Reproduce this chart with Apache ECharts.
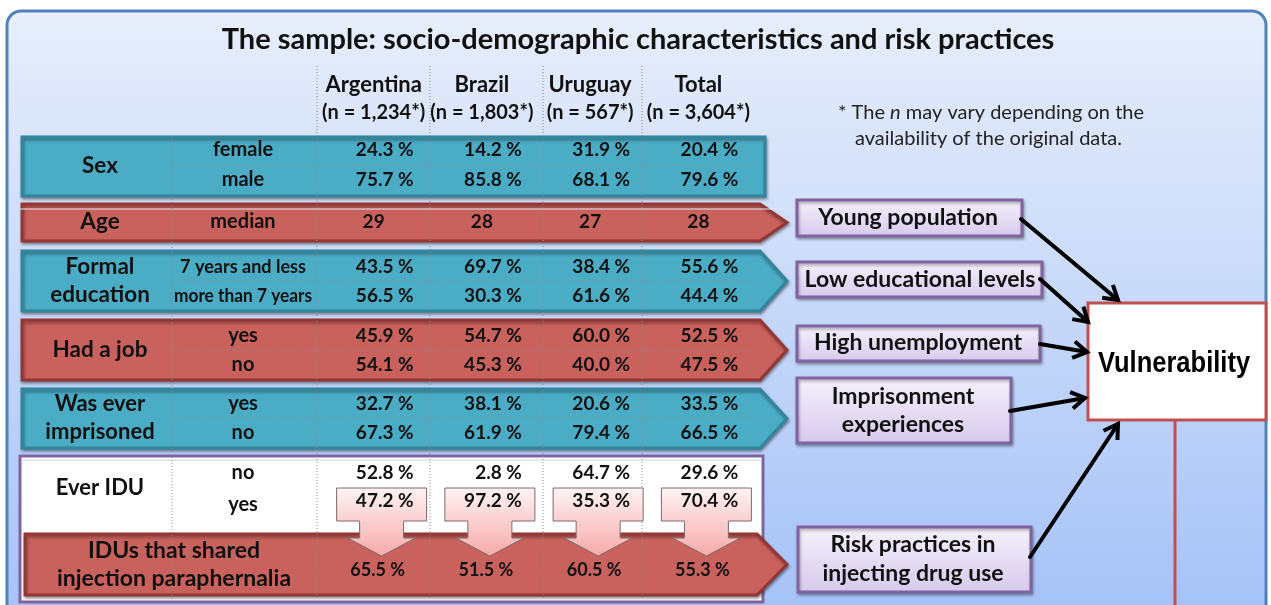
<!DOCTYPE html>
<html><head><meta charset="utf-8">
<script src="https://cdn.jsdelivr.net/npm/echarts@6/dist/echarts.min.js"></script>
<style>html,body{margin:0;padding:0;background:#fff}#c{width:1271px;height:605px}</style>
</head><body><div id="c"></div>
<script>
// ---------- DATA ----------
const categories = ['Argentina', 'Brazil', 'Uruguay', 'Total'];
const sampleN = ['1,234', '1,803', '567', '3,604'];
const sexFemale = [24.3, 14.2, 31.9, 20.4];
const sexMale = [75.7, 85.8, 68.1, 79.6];
const ageMedian = [29, 28, 27, 28];
const eduSevenOrLess = [43.5, 69.7, 38.4, 55.6];
const eduMoreThanSeven = [56.5, 30.3, 61.6, 44.4];
const jobYes = [45.9, 54.7, 60.0, 52.5];
const jobNo = [54.1, 45.3, 40.0, 47.5];
const imprisonedYes = [32.7, 38.1, 20.6, 33.5];
const imprisonedNo = [67.3, 61.9, 79.4, 66.5];
const everIduNo = [52.8, 2.8, 64.7, 29.6];
const everIduYes = [47.2, 97.2, 35.3, 70.4];
const sharedParaphernalia = [65.5, 51.5, 60.5, 55.3];

// ---------- LAYOUT ----------
const F = 'Lato, "Open Sans", sans-serif';
const TEAL = '#4bacc6', TEAL_B = '#31859c', RED = '#c9615d', RED_B = '#943634';
const rowY = {female:150, male:180, age:222, edu1:267, edu2:296, job1:336, job2:365,
  imp1:404, imp2:433, iduNo:473, iduYes:503, shared:570};

const cells = [];
function addPct(arr, y){ arr.forEach((v,i)=>cells.push({col:i, y:y, text:v.toFixed(1)+' %', kind:'pct'})); }
addPct(sexFemale, rowY.female); addPct(sexMale, rowY.male);
ageMedian.forEach((v,i)=>cells.push({col:i, y:rowY.age, text:String(v), kind:'mid'}));
addPct(eduSevenOrLess, rowY.edu1); addPct(eduMoreThanSeven, rowY.edu2);
addPct(jobYes, rowY.job1); addPct(jobNo, rowY.job2);
addPct(imprisonedYes, rowY.imp1); addPct(imprisonedNo, rowY.imp2);
addPct(everIduNo, rowY.iduNo);
everIduYes.forEach((v,i)=>cells.push({col:i, y:rowY.iduYes, text:v.toFixed(1)+' %', kind:'arrow'}));
sharedParaphernalia.forEach((v,i)=>cells.push({col:i, y:rowY.shared, text:v.toFixed(1)+' %', kind:'shared'}));

function txt(x,y,text,size,opt){
  opt = opt||{};
  return {type:'text', x:x, y:y, z:opt.z||5, scaleX:opt.sx||1, style:{text:text, fill:opt.fill||'#111',
    font:(opt.weight||'bold')+' '+size+'px '+(opt.family||F), align:opt.align||'center', verticalAlign:'middle', rich:opt.rich}};
}
function band(top,bottom,fill,stroke,left,tipBase,tip){
  const mid=(top+bottom)/2;
  const pts = tip ? [[left,top],[tipBase,top],[tip,mid],[tipBase,bottom],[left,bottom]]
                  : [[left,top],[tipBase,top],[tipBase,bottom],[left,bottom]];
  return {type:'polygon', z:1, shape:{points:pts}, style:{fill:fill, stroke:stroke, lineWidth:3,
    shadowBlur:3, shadowColor:'rgba(0,0,0,0.35)', shadowOffsetX:1, shadowOffsetY:2}};
}
function box(x,y,w,h){
  return {type:'rect', z:1, shape:{x:x,y:y,width:w,height:h}, style:{
    fill:{type:'linear',x:0,y:0,x2:0,y2:1,colorStops:[{offset:0,color:'#f6f2fc'},{offset:1,color:'#d6c9ec'}]},
    stroke:'#8064a2', lineWidth:3, shadowBlur:3, shadowColor:'rgba(0,0,0,0.3)', shadowOffsetX:1, shadowOffsetY:2}};
}
function arrow(x1,y1,x2,y2){
  const a=Math.atan2(y2-y1,x2-x1), L=16, s=0.55;
  return [{type:'line', z:3, shape:{x1:x1,y1:y1,x2:x2,y2:y2}, style:{stroke:'#000', lineWidth:4, lineCap:'round'}},
    {type:'polyline', z:3, shape:{points:[[x2+L*Math.cos(a+Math.PI-s), y2+L*Math.sin(a+Math.PI-s)],[x2,y2],
      [x2+L*Math.cos(a+Math.PI+s), y2+L*Math.sin(a+Math.PI+s)]]}, style:{stroke:'#000', lineWidth:4, lineJoin:'miter', fill:null}}];
}
const dotted = {stroke:'#8a8a8a', lineWidth:1, lineDash:[1,2]};

const g = [];
g.push({type:'rect', z:0, shape:{x:7,y:11,width:1259,height:620,r:14}, style:{
  fill:{type:'linear',x:0,y:0,x2:0,y2:1,colorStops:[{offset:0,color:'#e8eefb'},{offset:1,color:'#a3c1f7'}]},
  stroke:'#4f81bd', lineWidth:3}});
g.push(txt(638,40,'The sample: socio-demographic characteristics and risk practices',29));
g.push(txt(838,113,'* The {i|n} may vary depending on the',20,{weight:'normal',align:'left',fill:'#222',
  rich:{i:{font:'italic 20px '+F, fill:'#222'}}}));
g.push(txt(855,139,'availability of the original data.',20,{weight:'normal',align:'left',fill:'#222'}));

// bands
g.push(band(137,196,TEAL,TEAL_B,22,765,0));
g.push(band(204,241,RED,RED_B,22,760,787));
g.push({type:'line', z:2, shape:{x1:20,y1:209,x2:785,y2:209}, style:{stroke:'#e4ecfa', lineWidth:1}});
g.push(band(251,311,TEAL,TEAL_B,22,760,787));
g.push(band(320,380,RED,RED_B,22,760,787));
g.push(band(389,448,TEAL,TEAL_B,22,760,787));
g.push({type:'rect', z:1, shape:{x:20,y:456,width:743,height:146}, style:{fill:'#fff', stroke:'#8064a2', lineWidth:3}});
g.push({type:'line', z:2, shape:{x1:22,y1:460,x2:762,y2:460}, style:{stroke:'#c6d6f2', lineWidth:1}});
g.push(band(534,595,RED,RED_B,25,757,787));

// dotted grid
g.push({type:'line', z:3, shape:{x1:172,y1:136,x2:172,y2:600}, style:dotted});
[317,430,543,642].forEach(x=>g.push({type:'line', z:3, shape:{x1:x,y1:66,x2:x,y2:600}, style:dotted}));
[165,281,350,418].forEach(y=>g.push({type:'line', z:3, shape:{x1:172,y1:y,x2:757,y2:y}, style:dotted}));

// row labels
const GL = 22.5, SL = 20;
g.push(txt(100,166,'Sex',GL)); g.push(txt(243,150,'female',SL)); g.push(txt(243,180,'male',SL));
g.push(txt(100,222,'Age',GL)); g.push(txt(243,222,'median',SL));
g.push(txt(100,267,'Formal',GL)); g.push(txt(100,295,'education',GL));
g.push(txt(243,267,'7 years and less',19,{sx:0.95})); g.push(txt(243,296,'more than 7 years',19,{sx:0.91}));
g.push(txt(100,350,'Had a job',GL)); g.push(txt(243,336,'yes',SL)); g.push(txt(243,365,'no',SL));
g.push(txt(100,404,'Was ever',22)); g.push(txt(100,432,'imprisoned',22));
g.push(txt(243,404,'yes',SL)); g.push(txt(243,433,'no',SL));
g.push(txt(100,488,'Ever IDU',22)); g.push(txt(243,473,'no',SL)); g.push(txt(243,505,'yes',SL));
g.push(txt(174,551,'IDUs that shared',23)); g.push(txt(174,579,'injection paraphernalia',23));

// right boxes
const RB = 23;
g.push(box(797,200,225,36)); g.push(txt(908,218,'Young population',RB));
g.push(box(797,262,245,35)); g.push(txt(920,280,'Low educational levels',RB));
g.push(box(797,326,243,35)); g.push(txt(918,343,'High unemployment',RB));
g.push(box(797,378,214,65)); g.push(txt(903,397,'Imprisonment',RB)); g.push(txt(903,425,'experiences',RB));
g.push(box(798,527,233,65)); g.push(txt(913,545,'Risk practices in',RB)); g.push(txt(913,574,'injecting drug use',RB));

// vulnerability
g.push({type:'rect', z:1, shape:{x:1088,y:303,width:178,height:117}, style:{fill:'#fff', stroke:'#c0504d', lineWidth:3}});
g.push(txt(1174,364,'Vulnerability',29,{family:'"Liberation Sans Narrow", sans-serif', fill:'#000', sx:0.88}));
g.push({type:'line', z:1, shape:{x1:1175,y1:420,x2:1175,y2:606}, style:{stroke:'#c0504d', lineWidth:3}});
arrow(1021,219,1118,300).forEach(e=>g.push(e));
arrow(1040,279,1088,322).forEach(e=>g.push(e));
arrow(1040,344,1087,352).forEach(e=>g.push(e));
arrow(1010,411,1085,398).forEach(e=>g.push(e));
arrow(1030,557,1118,424).forEach(e=>g.push(e));

const chart = echarts.init(document.getElementById('c'), null, {renderer:'canvas'});
chart.setOption({
  animation:false,
  grid:{left:319.5, width:433, top:130, height:470},
  xAxis:{type:'category', data:categories, position:'top', axisLine:{show:false}, axisTick:{show:false},
    axisLabel:{margin:3, interval:0, formatter:(v,i)=>'{a|'+v+'}\n{b|(n = '+sampleN[i]+'*)}',
      rich:{a:{fontSize:22, fontWeight:'bold', fontFamily:F, color:'#111', lineHeight:28},
            b:{fontSize:20, fontWeight:'bold', fontFamily:F, color:'#111', lineHeight:28}}}},
  yAxis:{type:'value', min:130, max:600, inverse:true, show:false},
  graphic:{elements:g},
  series:[{
    type:'custom', z:10, coordinateSystem:'cartesian2d',
    data: cells.map(c=>[c.col, c.y]),
    renderItem:function(params, api){
      const c = cells[params.dataIndex];
      const p = api.coord([api.value(0), api.value(1)]);
      const x = p[0], y = p[1];
      const font = 'bold 19px '+F;
      if (c.kind==='mid') return {type:'text', z2:10, x:x, y:y, style:{text:c.text, font:font, fill:'#111', align:'center', verticalAlign:'middle'}};
      if (c.kind==='pct') return {type:'text', z2:10, x:x+40, y:y, style:{text:c.text, font:font, fill:'#111', align:'right', verticalAlign:'middle'}};
      if (c.kind==='shared') return {type:'text', z2:10, x:x+4, y:y, style:{text:c.text, font:'bold 18px '+F, fill:'#111', align:'center', verticalAlign:'middle'}};
      // arrow callout
      const cx = x+8, bt = y-15, bb = y+18, sb = y+35, tip = y+53;
      const pts = [[cx-45,bt],[cx+45,bt],[cx+45,bb],[cx+22,bb],[cx+22,sb],[cx+34,sb],[cx,tip],[cx-34,sb],[cx-22,sb],[cx-22,bb],[cx-45,bb]];
      return {type:'group', children:[
        {type:'polygon', z2:1, shape:{points:pts}, style:{
          fill:{type:'linear',x:0,y:0,x2:0,y2:1,colorStops:[{offset:0,color:'#fff4f4'},{offset:1,color:'#f6a9a9'}]},
          stroke:'#7a6a6a', lineWidth:1}},
        {type:'text', z2:10, x:x+40, y:y-2, style:{text:c.text, font:font, fill:'#111', align:'right', verticalAlign:'middle'}}
      ]};
    }
  }]
});
</script></body></html>
